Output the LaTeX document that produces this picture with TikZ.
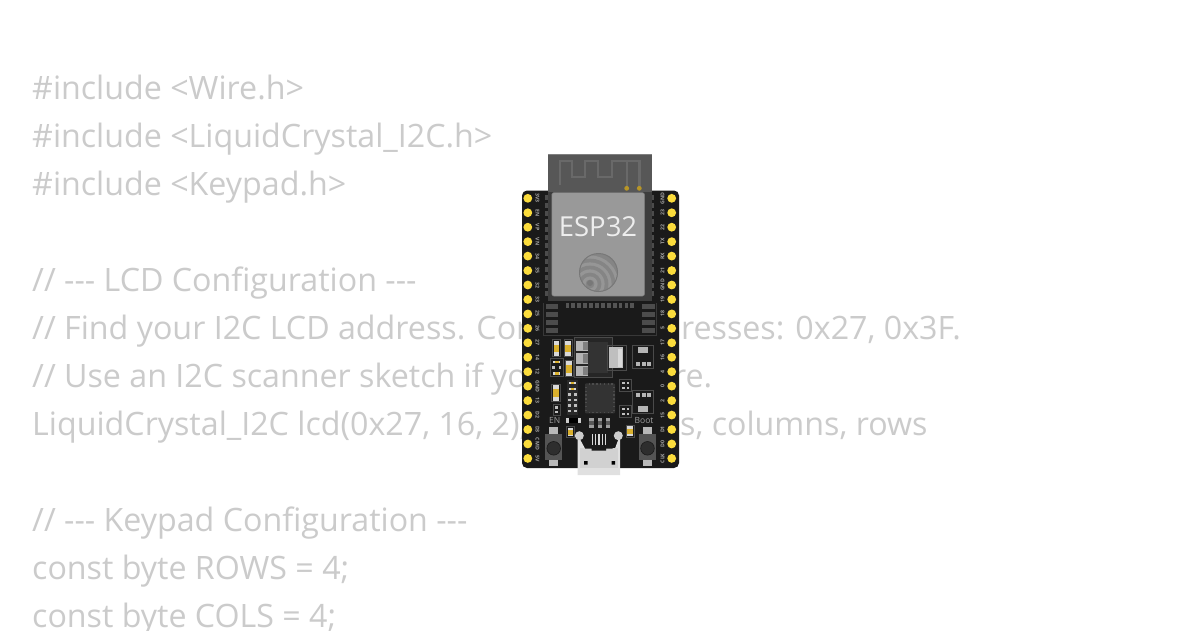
\documentclass[tikz,border=0pt]{standalone}
\usepackage{fontspec}
\setmainfont{Open Sans}
\definecolor{codegray}{HTML}{CBCBCB}
\definecolor{boardblk}{HTML}{1A1A1A}
\definecolor{pinyel}{HTML}{FBDC3C}
\definecolor{outl}{HTML}{4A4A4A}
\definecolor{padg}{HTML}{B5B5B5}
\definecolor{capy}{HTML}{D9B02E}
\tikzset{
  codeline/.style={anchor=base west,inner sep=0,text=codegray,font=\fontsize{32.2}{32.2}\selectfont},
  pin/.style={fill=pinyel,draw=none},
  pinlabel/.style={inner sep=0,text=white!65!black,font=\fontsize{5.2}{5.2}\selectfont\bfseries},
  silk/.style={inner sep=0,text=white!62!black,font=\fontsize{8.5}{8.5}\selectfont},
  outline/.style={draw=outl,line width=.8pt},
  pad/.style={fill=padg,draw=none},
  darkpad/.style={fill=white!33!black,draw=none}
}
\newcommand{\dashes}{{-}{-}{-}}
\newcommand{\ycap}[4]{% x0 y0 x1 y1 vertical capacitor
  \fill[black!90] (#1,#2) rectangle (#3,#4);
  \draw[outline] (#1,#2) rectangle (#3,#4);
  \fill[white!85!black] ({#1+1.3},{#2+1.2}) rectangle ({#3-1.3},{#4-1.2});
  \fill[capy] ({#1+1.3},{#2+.3*(#4-#2)}) rectangle ({#3-1.3},{#4-.25*(#4-#2)});
}
\newcommand{\sres}[2]{% x y centre small horizontal resistor
  \fill[white!85!black] ({#1-3.6},{#2-1.3}) rectangle ({#1+3.6},{#2+1.3});
  \fill[capy] ({#1-1.8},{#2-1.3}) rectangle ({#1+1.8},{#2+1.3});
}
\newcommand{\sdot}[2]{\fill[white!75!black] ({#1-1.2},{#2-1.2}) rectangle ({#1+1.2},{#2+1.2});}
\begin{document}
\begin{tikzpicture}[x=1pt,y=-1pt]
\useasboundingbox (0,0) rectangle (1200,630);
\fill[white] (0,0) rectangle (1200,630);
% code text
\node[codeline] (c1) at (32,99.5) {\#include <Wire.h>};
\node[codeline] (c2) at (32,147.5) {\#include <LiquidCrystal\_I2C.h>};
\node[codeline] (c3) at (32,195.5) {\#include <Keypad.h>};
\node[codeline] (c5) at (32,291.5) {// \dashes{} LCD Configuration \dashes};
\node[codeline] (c6) at (32,339.5) {// Find your I2C LCD address. Common addresses: 0x27, 0x3F.};
\node[codeline] (c7) at (32,387.5) {// Use an I2C scanner sketch if you're\ \ unsure.};
\node[codeline] (c8) at (32,435.5) {LiquidCrystal\_I2C lcd(0x27, 16, 2);\ \ // address, columns, rows};
\node[codeline] (c10) at (32,531.5) {// \dashes{} Keypad Configuration \dashes};
\node[codeline] (c11) at (32,579.5) {const byte ROWS = 4;};
\node[codeline] (c12) at (32,627.5) {const byte COLS = 4;};
% board
\fill[boardblk,rounded corners=5pt] (522,190.5) rectangle (679,468);
% pins and labels
\foreach \i/\l/\r in {0/3V3/GND,1/EN/23,2/VP/22,3/VN/TX,4/34/RX,5/35/21,6/32/GND,7/33/19,8/25/18,9/26/5,10/27/17,11/14/16,12/12/4,13/GND/0,14/13/2,15/D2/15,16/D3/D1,17/CMD/D0,18/5V/CLK}{
  \pgfmathsetmacro{\yy}{198.3+14.45*\i}
  \fill[pin] (527.8,\yy) circle (4.4);
  \fill[pin] (671.7,\yy) circle (4.4);
  \node[pinlabel,rotate=-90] (ll\i) at (537.5,\yy) {\l};
  \node[pinlabel,rotate=90] (rl\i) at (662.5,\yy) {\r};
}
% module
\fill[white!24!black] (548,190) rectangle (651.7,301);
\fill[white!34!black] (548,154.3) rectangle (651.7,192);
\draw[white!50!black,line width=.8pt] (548,154.6) -- (651.7,154.6);
\draw[white!41!black,line width=2.2pt,line join=miter]
  (560,185) -- (560,161) -- (571.7,161) -- (571.7,176.7) -- (585,176.7) -- (585,161) -- (598.3,161) -- (598.3,176.7) -- (611.7,176.7) -- (611.7,161) -- (639.5,161) -- (639.5,188);
\draw[white!41!black,line width=2.2pt] (626.7,161) -- (626.7,188);
\fill[capy!85!black] (626.7,188.3) circle (2.4) (639.3,188.3) circle (2.4);
% side castellations
\foreach \i in {0,...,12}{
  \pgfmathsetmacro{\yy}{195+8*\i}
  \fill[white!30!black] (545.3,\yy) rectangle (547.5,\yy+5);
  \fill[white!30!black] (652.2,\yy) rectangle (654.4,\yy+5);
}
% shield can
\fill[white!60!black,rounded corners=2pt] (551.8,192.7) rectangle (644.5,296);
\draw[white!48!black,line width=.5pt,rounded corners=2pt] (551.8,192.7) rectangle (644.5,296);
\node[inner sep=0,text=white!93!black,font=\fontsize{27.5}{27.5}\selectfont] (esp) at (598,227) {ESP32};
% logo
\begin{scope}
  \clip (598.5,272.5) circle (19);
  \fill[white!52!black] (598.5,272.5) circle (19);
  \foreach \r in {27,20,13,6}{
    \fill[white!59!black] (590,284) circle (\r+1.6);
    \fill[white!52!black] (590,284) circle (\r-1.6);
  }
\end{scope}
\draw[white!47!black,line width=1pt] (598.5,272.5) circle (19);
\fill[white!47!black] (590,283) circle (3);
% lower module pads
\draw[white!22!black,line width=.8pt] (543.5,303) -- (543.5,335) -- (656.5,335) -- (656.5,303);
\foreach \i in {0,...,11}{
  \pgfmathsetmacro{\xx}{565.5+5.9*\i}
  \fill[white!33!black] (\xx,302.5) rectangle (\xx+3.8,307.5);
}
\foreach \yy in {304,312,320,328}{
  \fill[white!30!black] (545.5,\yy) rectangle (558,\yy+5);
  \fill[white!30!black] (642,\yy) rectangle (654.5,\yy+5);
}
% regulator
\fill[white!15!black] (574.3,337) rectangle (612.7,377);
\draw[outline] (574.3,337) rectangle (612.7,377);
\fill[white!20!black] (588,342) rectangle (608,373);
\foreach \a/\b in {340.7/350.7,353.3/364,366/376}{
  \fill[pad] (576,\a) rectangle (588,\b);
  \fill[white!50!black] (583,\a+1) rectangle (588,\b-1);
}
% connector
\draw[outline] (607.7,345.7) rectangle (626,370);
\fill[white!75!black] (609,347.3) rectangle (622.7,368.3);
\fill[white!85!black] (618,349) rectangle (621.5,366.5);
% SOT top right
\draw[outline] (632.3,345) rectangle (653.3,368.3);
\fill[pad] (638.3,347.3) rectangle (647.7,352.7);
\foreach \xx in {636,641.7,647.3}{\fill[pad] (\xx,361.7) rectangle (\xx+3.8,365.7);}
% SOT lower right
\draw[outline] (632.3,390) rectangle (653.3,413.3);
\fill[pad] (638.3,406) rectangle (647.7,411.5);
\foreach \xx in {636,641.7,647.3}{\fill[pad] (\xx,392.7) rectangle (\xx+3.8,396.7);}
% caps
\ycap{552.3}{339.3}{560}{356.7}
\ycap{564}{339.3}{572.3}{356.7}
\ycap{565}{360}{573.3}{376.7}
\ycap{551.7}{384}{560}{401.7}
% resistor group
\draw[outline] (550,358.5) rectangle (563.3,376.7);
\sres{556.8}{362}
\sres{556.8}{373.2}
\sdot{553.5}{367.5}\sdot{560}{367.5}
% small part under cap
\draw[outline] (553.3,404) rectangle (560,415.5);
\sdot{556.6}{407.3}\sdot{556.6}{412}
% resistor stack
\fill[white!16!black] (566.7,380) rectangle (578.3,415);
\sres{572.5}{383}
\sres{572.5}{389}
\foreach \yy in {394.5,400,405.5,411}{\sdot{569.5}{\yy}\sdot{575.5}{\yy}}
% QFN
\fill[white!20!black,rounded corners=1pt] (585,383.3) rectangle (615,413.3);
\foreach \i in {0,...,6}{
  \pgfmathsetmacro{\t}{588.5+3.8*\i}
  \pgfmathsetmacro{\s}{386.8+3.8*\i}
  \fill[white!30!black] (\t,383.3) rectangle (\t+1.4,385);
  \fill[white!30!black] (\t,411.6) rectangle (\t+1.4,413.3);
  \fill[white!30!black] (585,\s) rectangle (586.7,\s+1.4);
  \fill[white!30!black] (613.3,\s) rectangle (615,\s+1.4);
}
% small parts right of QFN
\draw[outline] (619.3,379.3) rectangle (631.7,391.7);
\sdot{623.5}{383}\sdot{628}{383}\sdot{623.5}{388}\sdot{628}{388}
\draw[outline] (619.3,405) rectangle (631.7,417.3);
\sdot{623.5}{409}\sdot{628}{409}\sdot{623.5}{414}\sdot{628}{414}
% silkscreen
\node[silk] (en) at (554.8,420.5) {EN};
\node[silk] (boot) at (644,420.5) {Boot};
% small black resistor
\fill[white!80!black] (566,418.3) rectangle (580.7,423.3);
\fill[black] (569,418.3) rectangle (578,423.3);
% three small parts
\foreach \xx in {589.3,597.5,606}{
  \fill[white!35!black] (\xx,418) rectangle (\xx+4.2,427.5);
  \fill[white!62!black] (\xx,418) rectangle (\xx+4.2,420.5);
  \fill[white!62!black] (\xx,425) rectangle (\xx+4.2,427.5);
}
% LEDs
\ycap{566.7}{426.7}{574}{437.3}
\ycap{626}{425}{634}{437.3}
% buttons
\foreach \cx/\nm in {553.7/a,647.5/b}{
  \fill[white!72!black] (\cx-4.3,427) rectangle (\cx+4.3,434.5);
  \fill[white!72!black] (\cx-4.3,459.5) rectangle (\cx+4.3,465.7);
  \fill[white!33!black] (\cx-8.7,434) rectangle (\cx+8.7,460);
  \fill[white!18!black] (\cx,448.3) circle (6.8);
  \draw[white!10!black,line width=.6pt] (\cx,448.3) circle (6.8);
}
% USB
\fill[white!88!black] (577.7,435) -- (577.7,475) -- (620,475) -- (620,435) -- (615,448.5) -- (610,448.5) -- (610,450) -- (590,450) -- (590,448.5) -- (585,448.5) -- cycle;
\fill[white!82!black] (580,448) rectangle (618,468);
\fill[boardblk] (585,436) -- (612.5,436) -- (612.5,448.5) -- (606,448.5) -- (606,450.5) -- (591.5,450.5) -- (591.5,448.5) -- (585,448.5) -- cycle;
\foreach \xx in {592.3,595.7,599,602.3,605.7}{\fill[white!85!black] (\xx-.6,433.5) rectangle (\xx+.6,444.5);}
\fill[white!80!black] (579.3,435.7) circle (4.5) (618.3,435.7) circle (4.5);
\fill[black] (584,461) rectangle (587.5,464.5) (611.5,461) rectangle (615,464.5);
\end{tikzpicture}
\end{document}
